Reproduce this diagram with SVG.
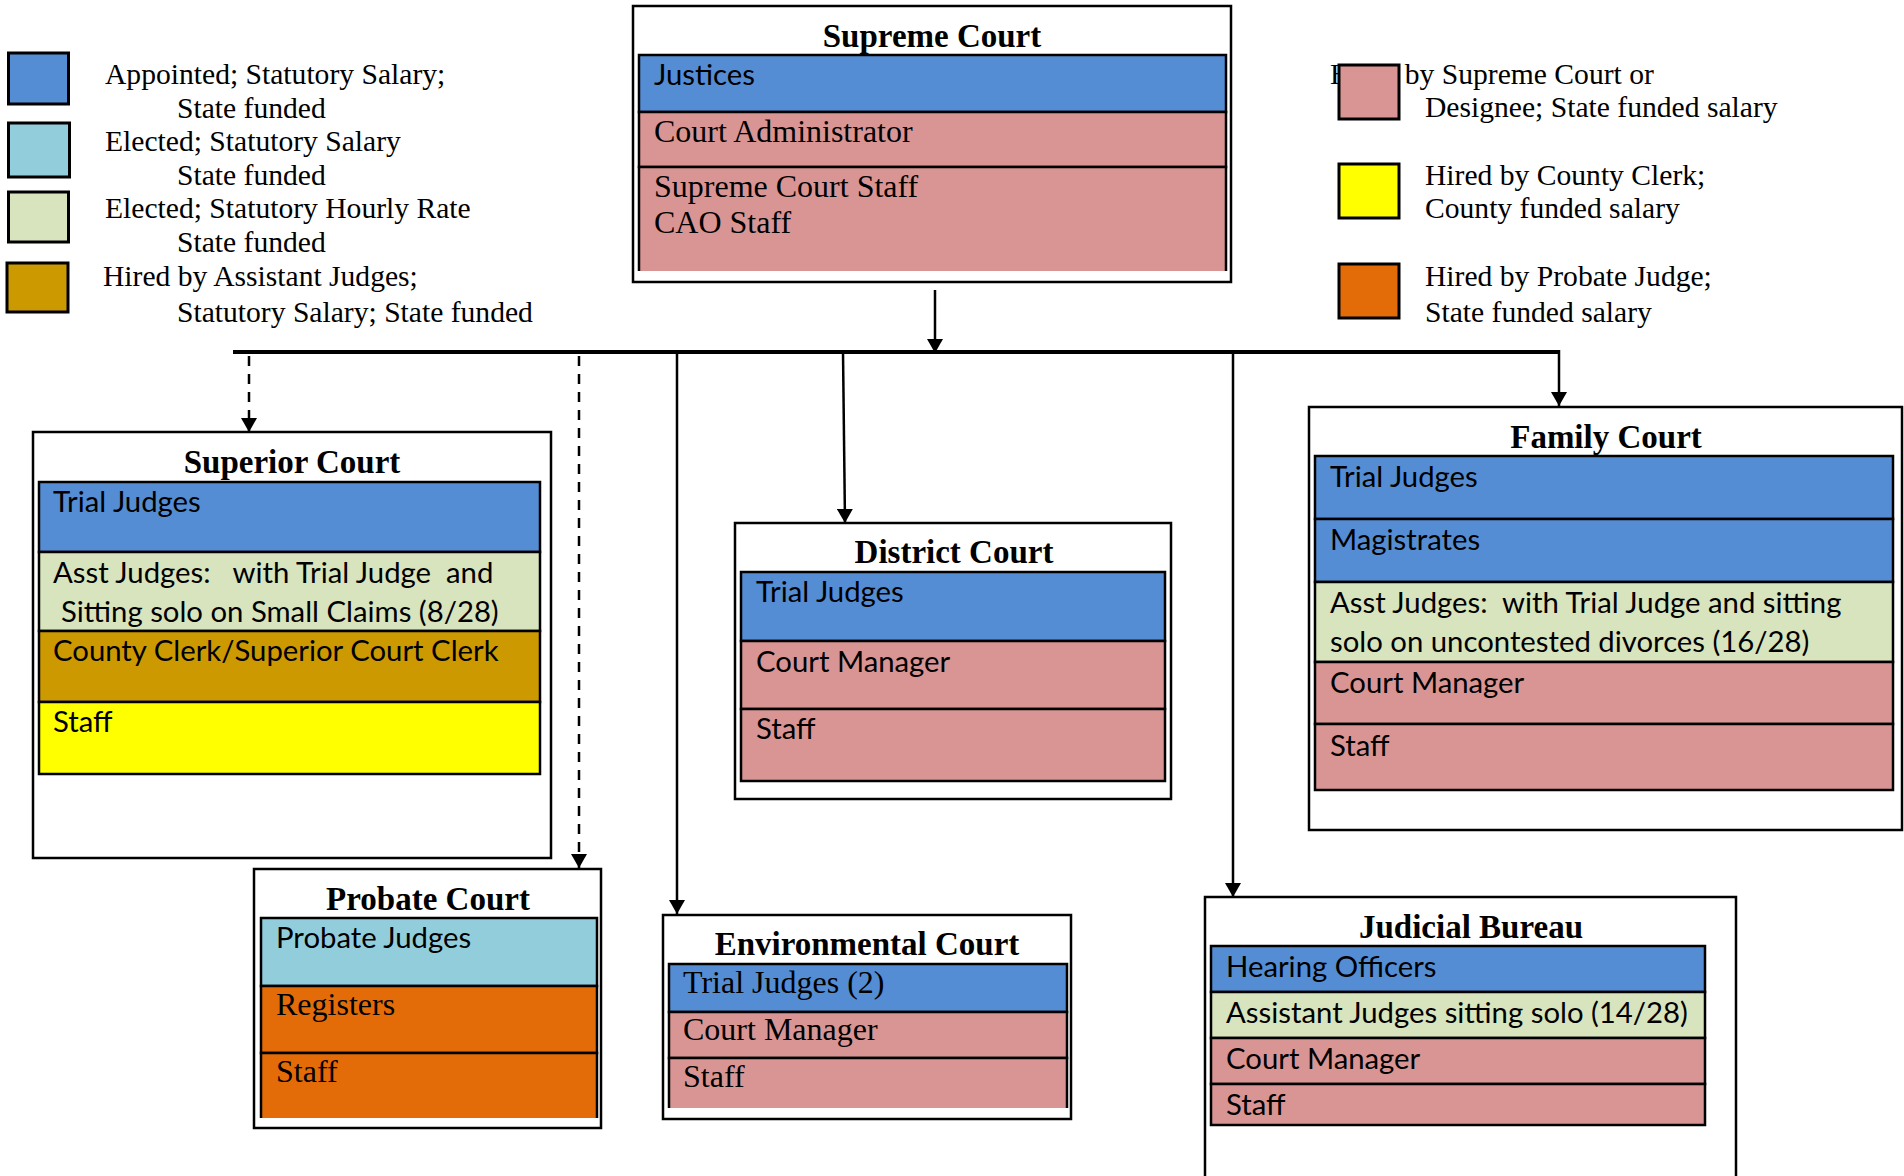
<svg xmlns="http://www.w3.org/2000/svg" width="1904" height="1176" viewBox="0 0 1904 1176">
<defs>
<marker id="ah" markerWidth="14" markerHeight="16" refX="14" refY="8" orient="auto" markerUnits="userSpaceOnUse" viewBox="0 0 14 16">
<path d="M0,0 L14,8 L0,16 Z" fill="#000"/>
</marker>
<style>
.ob{fill:#fff;stroke:#000;stroke-width:2.5}
.row{stroke:#000;stroke-width:2.5}
.nb{stroke:none}
.edge{fill:none;stroke:#000;stroke-width:2.5}
.blue{fill:#548DD4}
.lblue{fill:#92CDDC}
.green{fill:#D7E4BD}
.gold{fill:#CC9900}
.yellow{fill:#FFFF00}
.pink{fill:#D99594}
.orange{fill:#E36C09}
.ttl{font-family:"Liberation Serif",serif;font-weight:bold;font-size:33px;text-anchor:middle;fill:#000}
.sn{font-family:Lato,"Liberation Sans",sans-serif;font-size:29.3px;fill:#000}
.sr{font-family:"Liberation Serif",serif;font-size:32px;fill:#000}
.lg{font-family:"Liberation Serif",serif;font-size:29.6px;fill:#000}
.lsq{stroke:#000;stroke-width:3}
.conn{fill:none;stroke:#000;stroke-width:2.5}
.dash{stroke-dasharray:10,8}
</style>
</defs>

<g id="legend">
<rect class="lsq blue" x="8.5" y="53" width="60" height="51"/>
<rect class="lsq lblue" x="8.5" y="123" width="61" height="54"/>
<rect class="lsq green" x="8.5" y="192" width="60" height="50"/>
<rect class="lsq gold" x="7" y="263" width="61" height="49"/>
<text class="lg" x="105" y="84">Appointed; Statutory Salary;</text>
<text class="lg" x="177" y="118">State funded</text>
<text class="lg" x="105" y="151">Elected; Statutory Salary</text>
<text class="lg" x="177" y="185">State funded</text>
<text class="lg" x="105" y="218">Elected; Statutory Hourly Rate</text>
<text class="lg" x="177" y="252">State funded</text>
<text class="lg" x="103" y="286">Hired by Assistant Judges;</text>
<text class="lg" x="177" y="322">Statutory Salary; State funded</text>

<text class="lg" x="1330" y="84">Hired by Supreme Court or</text>
<rect class="lsq pink" x="1339" y="65" width="60" height="54"/>
<text class="lg" x="1425" y="117">Designee; State funded salary</text>
<rect class="lsq yellow" x="1339" y="164" width="60" height="54"/>
<text class="lg" x="1425" y="185">Hired by County Clerk;</text>
<text class="lg" x="1425" y="218">County funded salary</text>
<rect class="lsq orange" x="1339" y="264" width="60" height="54"/>
<text class="lg" x="1425" y="286">Hired by Probate Judge;</text>
<text class="lg" x="1425" y="322">State funded salary</text>
</g>

<g id="connectors">
<line class="conn" x1="233" y1="352" x2="1559" y2="352" style="stroke-width:4"/>
<line class="conn" x1="935" y1="290" x2="935" y2="353" marker-end="url(#ah)"/>
<line class="conn dash" x1="249" y1="356" x2="249" y2="432" marker-end="url(#ah)"/>
<line class="conn dash" x1="579" y1="356" x2="579" y2="868" marker-end="url(#ah)"/>
<line class="conn" x1="677" y1="352" x2="677" y2="914" marker-end="url(#ah)"/>
<line class="conn" x1="843" y1="352" x2="845" y2="523" marker-end="url(#ah)"/>
<line class="conn" x1="1233" y1="352" x2="1233" y2="897" marker-end="url(#ah)"/>
<line class="conn" x1="1559" y1="350" x2="1559" y2="406" marker-end="url(#ah)"/>
</g>

<g id="supreme-court">
<rect class="ob" x="633" y="6" width="598" height="276"/>
<text class="ttl" x="932" y="47">Supreme Court</text>
<rect class="row blue" x="639" y="55" width="587" height="57"/>
<rect class="row pink" x="639" y="112" width="587" height="55"/>
<rect class="nb pink" x="639" y="167" width="587" height="104"/>
<path class="edge" d="M639,271 V167 H1226 V271"/>
<text class="sn" x="654" y="85">Justices</text>
<text class="sr" x="654" y="142">Court Administrator</text>
<text class="sr" x="654" y="197">Supreme Court Staff</text>
<text class="sr" x="654" y="233">CAO Staff</text>
</g>

<g id="superior-court">
<rect class="ob" x="33" y="432" width="518" height="426"/>
<text class="ttl" x="292" y="473">Superior Court</text>
<rect class="row blue" x="39" y="482" width="501" height="70"/>
<rect class="row green" x="39" y="552" width="501" height="79"/>
<rect class="row gold" x="39" y="631" width="501" height="71"/>
<rect class="row yellow" x="39" y="702" width="501" height="72"/>
<text class="sn" x="53" y="512">Trial Judges</text>
<text class="sn" x="53" y="583" xml:space="preserve">Asst Judges:   with Trial Judge  and</text>
<text class="sn" x="61" y="622">Sitting solo on Small Claims (8/28)</text>
<text class="sn" x="53" y="661">County Clerk/Superior Court Clerk</text>
<text class="sn" x="53" y="732">Staff</text>
</g>

<g id="district-court">
<rect class="ob" x="735" y="523" width="436" height="276"/>
<text class="ttl" x="954" y="563">District Court</text>
<rect class="row blue" x="741" y="572" width="424" height="69"/>
<rect class="row pink" x="741" y="641" width="424" height="68"/>
<rect class="row pink" x="741" y="709" width="424" height="72"/>
<text class="sn" x="756" y="602">Trial Judges</text>
<text class="sn" x="756" y="672">Court Manager</text>
<text class="sn" x="756" y="739">Staff</text>
</g>

<g id="family-court">
<rect class="ob" x="1309" y="407" width="593" height="423"/>
<text class="ttl" x="1606" y="448">Family Court</text>
<rect class="row blue" x="1315" y="456" width="578" height="63"/>
<rect class="row blue" x="1315" y="519" width="578" height="63"/>
<rect class="row green" x="1315" y="582" width="578" height="80"/>
<rect class="row pink" x="1315" y="662" width="578" height="62"/>
<rect class="row pink" x="1315" y="724" width="578" height="66"/>
<text class="sn" x="1330" y="487">Trial Judges</text>
<text class="sn" x="1330" y="550">Magistrates</text>
<text class="sn" x="1330" y="613" xml:space="preserve">Asst Judges:  with Trial Judge and sitting</text>
<text class="sn" x="1330" y="652">solo on uncontested divorces (16/28)</text>
<text class="sn" x="1330" y="693">Court Manager</text>
<text class="sn" x="1330" y="756">Staff</text>
</g>

<g id="probate-court">
<rect class="ob" x="254" y="869" width="347" height="259"/>
<text class="ttl" x="428" y="910">Probate Court</text>
<rect class="row lblue" x="261" y="918" width="336" height="68"/>
<rect class="row orange" x="261" y="986" width="336" height="67"/>
<rect class="nb orange" x="261" y="1053" width="336" height="65"/>
<path class="edge" d="M261,1118 V1053 H597 V1118"/>
<text class="sn" x="276" y="948">Probate Judges</text>
<text class="sr" x="276" y="1015">Registers</text>
<text class="sr" x="276" y="1082">Staff</text>
</g>

<g id="environmental-court">
<rect class="ob" x="663" y="915" width="408" height="204"/>
<text class="ttl" x="867" y="955">Environmental Court</text>
<rect class="row blue" x="669" y="964" width="398" height="48"/>
<rect class="row pink" x="669" y="1012" width="398" height="46"/>
<rect class="nb pink" x="669" y="1058" width="398" height="50"/>
<path class="edge" d="M669,1108 V1058 H1067 V1108"/>
<text class="sr" x="683" y="993">Trial Judges (2)</text>
<text class="sr" x="683" y="1040">Court Manager</text>
<text class="sr" x="683" y="1087">Staff</text>
</g>

<g id="judicial-bureau">
<rect class="ob" x="1205" y="897" width="531" height="290"/>
<text class="ttl" x="1471" y="938">Judicial Bureau</text>
<rect class="row blue" x="1211" y="946" width="494" height="46"/>
<rect class="row green" x="1211" y="992" width="494" height="46"/>
<rect class="row pink" x="1211" y="1038" width="494" height="46"/>
<rect class="row pink" x="1211" y="1084" width="494" height="41"/>
<text class="sn" x="1226" y="977">Hearing Officers</text>
<text class="sn" x="1226" y="1023">Assistant Judges sitting solo (14/28)</text>
<text class="sn" x="1226" y="1069">Court Manager</text>
<text class="sn" x="1226" y="1115">Staff</text>
</g>
</svg>
